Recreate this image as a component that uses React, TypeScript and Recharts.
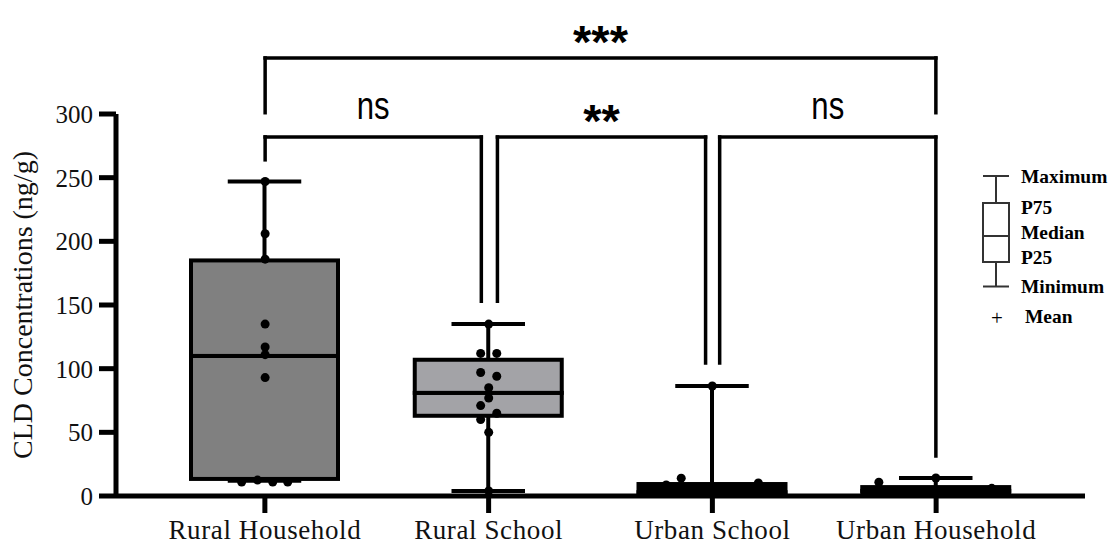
import React from 'react'
import { ComposedChart, Bar, Scatter, XAxis, YAxis, ReferenceLine, ReferenceDot, Legend } from 'recharts'

// groups along the x axis
const groups = ['Rural Household', 'Rural School', 'Urban School', 'Urban Household']

// box statistics (ng/g)
const minimum = [12, 4, 0.3, 0.3]
const p25 = [13.4, 63, 0.6, 1]
const median = [110, 81, 3, 4]
const p75 = [185, 107, 9.4, 7]
const maximum = [247, 135, 86.4, 14.1]

// individual samples, with the horizontal spread (category units)
const ruralHouseholdValues = [247, 206, 186, 135, 117, 111, 93, 11, 12.5, 11, 11]
const ruralHouseholdSpread = [0, 0, 0, 0, 0, 0, 0, -0.105, -0.034, 0.034, 0.101]
const ruralSchoolValues = [135, 112, 112, 97, 94, 85, 77, 71, 65, 60, 50, 4]
const ruralSchoolSpread = [0, -0.036, 0.036, -0.036, 0.036, 0, 0, -0.036, 0.036, -0.036, 0, 0]
const urbanSchoolValues = [86.4, 14, 10.2, 8.6, 5, 3, 2, 1]
const urbanSchoolSpread = [0, -0.139, 0.206, -0.206, 0, -0.08, 0.08, 0.15]
const urbanHouseholdValues = [14.1, 10.8, 6, 4, 3, 2, 1]
const urbanHouseholdSpread = [0, -0.255, 0.25, -0.1, 0.1, -0.2, 0.18]

// significance brackets
const bracketText = ['***', 'ns', '**', 'ns']
const bracketFrom = [0, 0, 1.039, 2.033]
const bracketTo = [3, 0.967, 1.97, 3]
const bracketTop = [344, 282, 282, 282]
const bracketFromEnd = [301, 264, 153, 104.5]
const bracketToEnd = [301, 153, 104.5, 31.4]

const yTicks = [0, 50, 100, 150, 200, 250, 300]
const legendLabels = ['Maximum', 'P75', 'Median', 'P25', 'Minimum']

const boxColors = ['#808080', '#a3a3a7', '#000000', '#000000']
const serif = '"Liberation Serif", "Times New Roman", Times, serif'
const sans = '"Liberation Sans", Arial, sans-serif'

const rows = groups.map((g, i) => ({
  name: g,
  base: minimum[i],
  lowWhisker: p25[i] - minimum[i],
  lowBox: median[i] - p25[i],
  highBox: p75[i] - median[i],
  highWhisker: maximum[i] - p75[i],
}))

const samples = [
  [ruralHouseholdValues, ruralHouseholdSpread],
  [ruralSchoolValues, ruralSchoolSpread],
  [urbanSchoolValues, urbanSchoolSpread],
  [urbanHouseholdValues, urbanHouseholdSpread],
].flatMap(([vals, spread], gi) => vals.map((v, k) => ({ pos: gi + spread[k], y: v })))

const Nothing = () => <g />

const LowWhisker = (p: any) => {
  const cx = p.x + p.width / 2
  const half = p.width * 0.25
  const bottom = p.y + p.height
  return (
    <g>
      <line x1={cx} x2={cx} y1={p.y} y2={bottom} stroke="#000" strokeWidth={4} />
      <line x1={cx - half} x2={cx + half} y1={bottom} y2={bottom} stroke="#000" strokeWidth={4} />
    </g>
  )
}

const HighWhisker = (p: any) => {
  const cx = p.x + p.width / 2
  const half = p.width * 0.25
  return (
    <g>
      <line x1={cx} x2={cx} y1={p.y} y2={p.y + p.height} stroke="#000" strokeWidth={4} />
      <line x1={cx - half} x2={cx + half} y1={p.y} y2={p.y} stroke="#000" strokeWidth={4} />
    </g>
  )
}

const BoxPart = (p: any) => (
  <rect x={p.x} y={p.y} width={p.width} height={Math.max(p.height, 0)} fill={boxColors[p.index]} stroke="#000" strokeWidth={4} />
)

const Dot = (p: any) => <circle cx={p.cx} cy={p.cy} r={4.5} fill="#000" />

const XTick = ({ x, y, payload }: any) => (
  <text x={x} y={y + 24} textAnchor="middle" fontFamily={serif} fontSize={27} letterSpacing={0.6} fill="#111">
    {payload.value}
  </text>
)

const YTick = ({ x, y, payload }: any) => (
  <text x={x - 4} y={y + 9} textAnchor="end" fontFamily={serif} fontSize={25} fill="#111">
    {payload.value}
  </text>
)

const YLabel = ({ viewBox }: any) => {
  const cx = viewBox.x + 32
  const cy = viewBox.y + viewBox.height / 2
  return (
    <text transform={`translate(${cx},${cy}) rotate(-90)`} textAnchor="middle" fontFamily={serif} fontSize={28} fill="#111">
      CLD Concentrations (ng/g)
    </text>
  )
}

const SigLabel = (text: string) => (p: any) => {
  if (text === 'ns') {
    return (
      <text transform={`translate(${p.cx},${p.cy - 18}) scale(0.82,1)`} textAnchor="middle" fontFamily={sans} fontSize={38} fill="#000">
        {text}
      </text>
    )
  }
  return (
    <text x={p.cx} y={p.cy} textAnchor="middle" fontFamily={sans} fontWeight="bold" fontSize={47} fill="#000">
      {text}
    </text>
  )
}

const legendBaselines = [33, 64, 89, 114, 143]

const BoxLegend = () => (
  <svg width={156} height={190} style={{ display: 'block' }}>
    <g stroke="#333" strokeWidth={2} fill="none">
      <line x1={23} x2={49} y1={26} y2={26} />
      <line x1={36} x2={36} y1={26} y2={53} />
      <rect x={23} y={53} width={26} height={59} fill="#fff" />
      <line x1={23} x2={49} y1={86} y2={86} />
      <line x1={36} x2={36} y1={112} y2={136.5} />
      <line x1={23} x2={49} y1={136.5} y2={136.5} />
    </g>
    {legendLabels.map((t, i) => (
      <text key={t} transform={`translate(61,${legendBaselines[i]}) scale(1.08,1)`} fontFamily={serif} fontWeight="bold" fontSize={18} fill="#000">
        {t}
      </text>
    ))}
    <text x={37} y={175} textAnchor="middle" fontFamily={serif} fontSize={21} fill="#000">+</text>
    <text transform="translate(65,173) scale(1.08,1)" fontFamily={serif} fontWeight="bold" fontSize={18} fill="#000">Mean</text>
  </svg>
)

export default function App() {
  return (
    <div style={{ position: 'absolute', left: 0, top: 0, background: '#fff' }}>
      <ComposedChart width={1116} height={546} data={rows} margin={{ top: 114, right: 31, bottom: 0, left: 0 }}>
        <XAxis
          xAxisId="cat"
          dataKey="name"
          type="category"
          padding={{ left: 37, right: 37 }}
          height={50}
          tick={<XTick />}
          tickSize={17}
          tickLine={{ stroke: '#000', strokeWidth: 5 }}
          axisLine={{ stroke: '#000', strokeWidth: 5 }}
        />
        <XAxis xAxisId="num" dataKey="pos" type="number" domain={[-0.667, 3.667]} allowDataOverflow hide />
        <YAxis
          type="number"
          domain={[0, 300]}
          ticks={yTicks}
          allowDataOverflow
          width={116}
          tick={<YTick />}
          tickSize={17}
          tickLine={{ stroke: '#000', strokeWidth: 5 }}
          axisLine={{ stroke: '#000', strokeWidth: 5 }}
          label={{ content: <YLabel /> }}
        />
        <Bar xAxisId="cat" dataKey="base" stackId="box" barSize={147} shape={<Nothing />} isAnimationActive={false} />
        <Bar xAxisId="cat" dataKey="lowWhisker" stackId="box" barSize={147} shape={<LowWhisker />} isAnimationActive={false} />
        <Bar xAxisId="cat" dataKey="lowBox" stackId="box" barSize={147} shape={<BoxPart />} isAnimationActive={false} />
        <Bar xAxisId="cat" dataKey="highBox" stackId="box" barSize={147} shape={<BoxPart />} isAnimationActive={false} />
        <Bar xAxisId="cat" dataKey="highWhisker" stackId="box" barSize={147} shape={<HighWhisker />} isAnimationActive={false} />
        <Scatter xAxisId="num" data={samples} dataKey="y" shape={<Dot />} isAnimationActive={false} />
        {bracketText.map((t, i) => (
          <React.Fragment key={'b' + i}>
            <ReferenceLine
              xAxisId="num"
              segment={[{ x: bracketFrom[i], y: bracketFromEnd[i] }, { x: bracketFrom[i], y: bracketTop[i] }]}
              stroke="#000" strokeWidth={3.5} strokeLinecap="square" ifOverflow="visible"
            />
            <ReferenceLine
              xAxisId="num"
              segment={[{ x: bracketFrom[i], y: bracketTop[i] }, { x: bracketTo[i], y: bracketTop[i] }]}
              stroke="#000" strokeWidth={3.5} strokeLinecap="square" ifOverflow="visible"
            />
            <ReferenceLine
              xAxisId="num"
              segment={[{ x: bracketTo[i], y: bracketTop[i] }, { x: bracketTo[i], y: bracketToEnd[i] }]}
              stroke="#000" strokeWidth={3.5} strokeLinecap="square" ifOverflow="visible"
            />
            <ReferenceDot
              xAxisId="num"
              x={(bracketFrom[i] + bracketTo[i]) / 2}
              y={bracketTop[i]}
              r={0}
              ifOverflow="visible"
              shape={SigLabel(t)}
            />
          </React.Fragment>
        ))}
        <Legend
          content={<BoxLegend />}
          layout="vertical"
          align="center"
          verticalAlign="middle"
          wrapperStyle={{ left: 960, top: 150, width: 156 }}
        />
      </ComposedChart>
    </div>
  )
}
